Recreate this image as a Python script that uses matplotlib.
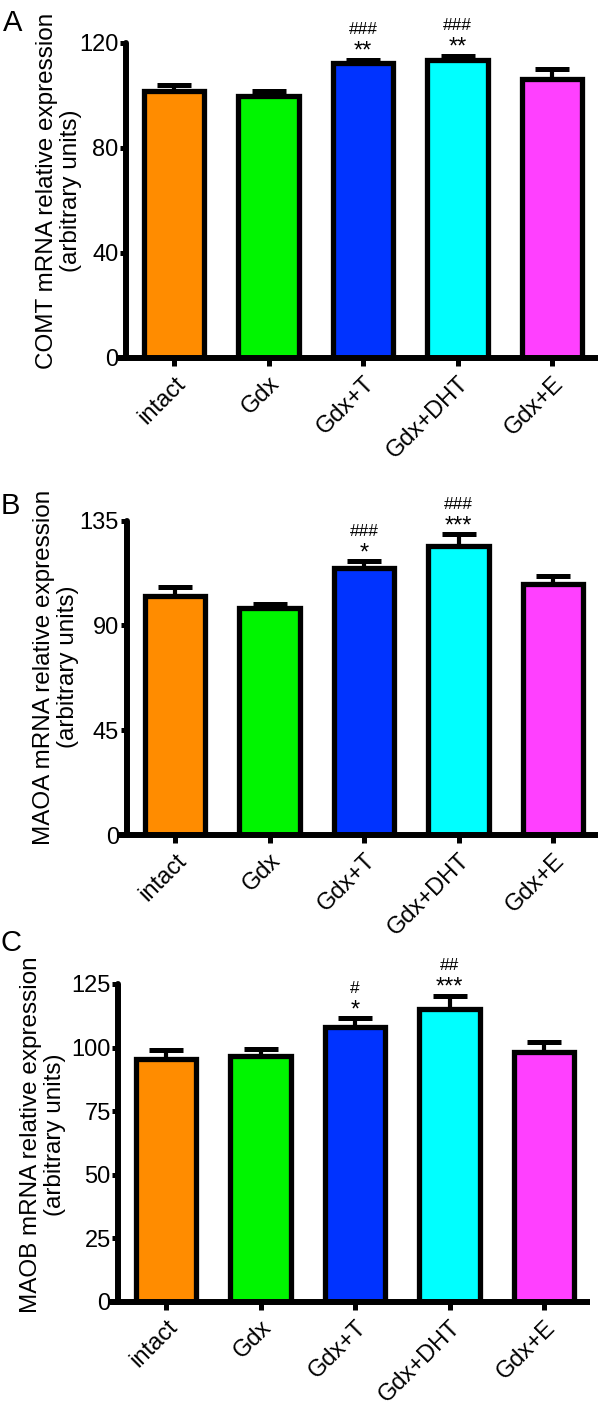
import matplotlib
matplotlib.use("Agg")
import matplotlib.pyplot as plt
import numpy as np

plt.rcParams['font.family'] = ['Liberation Sans', 'DejaVu Sans']

groups = ["intact", "Gdx", "Gdx+T", "Gdx+DHT", "Gdx+E"]
colors = ["#FF8C00", "#00F500", "#0033FF", "#00FFFF", "#FF40FF"]

comt_mean = [101.6, 99.8, 112.4, 113.5, 106.0]
comt_sem = [2.3, 1.7, 1.0, 1.5, 3.9]
maoa_mean = [102.7, 97.7, 114.7, 124.0, 107.9]
maoa_sem = [3.7, 1.7, 2.8, 5.1, 3.3]
maob_mean = [95.3, 96.7, 108.0, 115.1, 98.4]
maob_sem = [3.7, 2.7, 3.5, 5.3, 3.7]

comt_ticks = [0, 40, 80, 120]
maoa_ticks = [0, 45, 90, 135]
maob_ticks = [0, 25, 50, 75, 100, 125]

comt_stars = ["", "", "**", "**", ""]
comt_hash = ["", "", "###", "###", ""]
maoa_stars = ["", "", "*", "***", ""]
maoa_hash = ["", "", "###", "###", ""]
maob_stars = ["", "", "*", "***", ""]
maob_hash = ["", "", "#", "##", ""]

W, H = 600, 1404
fig = plt.figure(figsize=(W / 100, H / 100), dpi=100)

panels = [
    dict(letter="A", gene="COMT", mean=comt_mean, sem=comt_sem, ticks=comt_ticks,
         stars=comt_stars, hashes=comt_hash,
         y0=358, ytop=42.7, yaxis_x=126, xleft=118, tick0=174, right=598,
         letter_xy=(3, 31), lab_x=82, lab_y=191),
    dict(letter="B", gene="MAOA", mean=maoa_mean, sem=maoa_sem, ticks=maoa_ticks,
         stars=maoa_stars, hashes=maoa_hash,
         y0=835, ytop=520.7, yaxis_x=126.7, xleft=118, tick0=175, right=598,
         letter_xy=(1, 514), lab_x=79, lab_y=667),
    dict(letter="C", gene="MAOB", mean=maob_mean, sem=maob_sem, ticks=maob_ticks,
         stars=maob_stars, hashes=maob_hash,
         y0=1301.7, ytop=984, yaxis_x=118.3, xleft=110, tick0=166, right=590,
         letter_xy=(1, 951), lab_x=66, lab_y=1135),
]

spacing = 94.5
lw_axis = 4.3
lw_bar = 3.8

for p in panels:
    left = p["xleft"] / W
    width = (p["right"] - p["xleft"]) / W
    bottom = 1 - p["y0"] / H
    height = (p["y0"] - p["ytop"]) / H
    ax = fig.add_axes([left, bottom, width, height])
    ymax = p["ticks"][-1]
    x = np.arange(len(groups))
    ax.set_xlim((p["xleft"] - p["tick0"]) / spacing, (p["right"] - p["tick0"]) / spacing)
    ax.set_ylim(0, ymax)

    ax.errorbar(x, p["mean"], yerr=[np.zeros(len(x)), p["sem"]], fmt="none",
                ecolor="black", elinewidth=3.0, capsize=12, capthick=3.6,
                zorder=1)
    ax.bar(x, p["mean"], width=0.64, color=colors, edgecolor="black",
           linewidth=lw_bar, zorder=2)

    for i in range(len(x)):
        top = p["mean"][i] + p["sem"][i]
        if p["stars"][i]:
            ax.annotate(p["stars"][i], xy=(x[i], top), xytext=(0, 1.5),
                        textcoords="offset points", ha="center", va="baseline",
                        fontsize=17, annotation_clip=False)
        if p["hashes"][i]:
            ax.annotate(p["hashes"][i], xy=(x[i], top), xytext=(0, 18.5),
                        textcoords="offset points", ha="center", va="baseline",
                        fontsize=12.5, annotation_clip=False)

    for s in ["top", "right"]:
        ax.spines[s].set_visible(False)
    ax.spines["left"].set_position(("data", (p["yaxis_x"] - p["tick0"]) / spacing))
    ax.spines["left"].set_linewidth(lw_axis)
    ax.spines["bottom"].set_linewidth(lw_axis)
    ax.spines["left"].set_capstyle("round")
    ax.spines["bottom"].set_capstyle("butt")

    ax.set_yticks(p["ticks"])
    ax.set_yticklabels([str(t) for t in p["ticks"]], fontsize=17)
    ax.set_xticks(x)
    ax.set_xticklabels(groups, rotation=45, ha="right", rotation_mode="anchor",
                       fontsize=17)
    ax.tick_params(axis="y", length=4, width=3.6, pad=1.5, direction="out")
    ax.tick_params(axis="x", length=5.5, width=3.6, pad=5, direction="out")

    fig.text(p["lab_x"] / W, 1 - p["lab_y"] / H,
             p["gene"] + " mRNA relative expression\n(arbitrary units)",
             rotation=90, ha="right", va="center", fontsize=17.5,
             multialignment="center", linespacing=1.1)
    fig.text(p["letter_xy"][0] / W, 1 - p["letter_xy"][1] / H, p["letter"],
             fontsize=21, ha="left", va="baseline")

fig.savefig("out.png", dpi=100)
